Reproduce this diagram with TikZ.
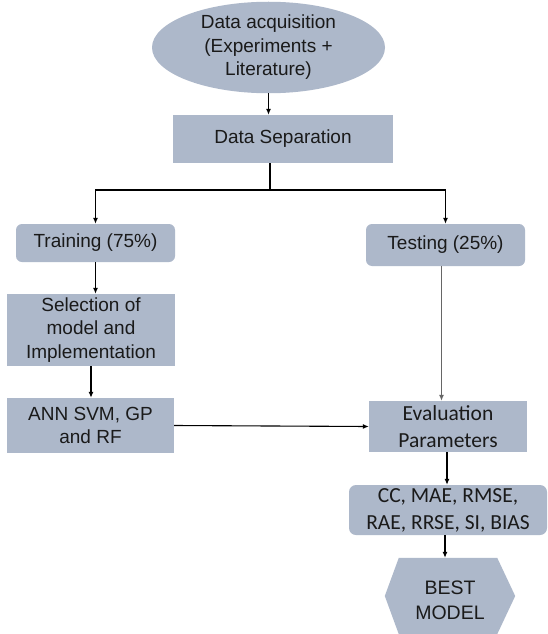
\documentclass[tikz,border=0pt]{standalone}
\usepackage{fontspec}
\setmainfont{Liberation Sans}
\newfontfamily\calib{Carlito}
\usetikzlibrary{shapes.geometric,arrows.meta}
\definecolor{boxfill}{HTML}{ADB8CA}
\definecolor{txt}{HTML}{1A1A1A}
\tikzset{
  base/.style={fill=boxfill, text=txt, align=center, inner sep=0pt,
    font=\fontsize{19}{23.5}\selectfont},
  sqbox/.style={base, rectangle},
  rbox/.style={base, rectangle, rounded corners=6pt},
  cbox/.style={base, font=\calib\fontsize{21.5}{27}\selectfont},
  conn/.style={line width=1.1pt, black, -{Latex[length=6pt,width=5pt]}},
  plain/.style={line width=1.1pt, black}
}
\begin{document}
\begin{tikzpicture}[x=1pt,y=-1pt]
\useasboundingbox[fill=white] (0,0) rectangle (547,634);
\node[base, ellipse, minimum width=233pt, minimum height=79pt] (acq) at (268.5,47.5)
  {Data acquisition\\(Experiments +\\Literature)};
\node[sqbox, minimum width=220pt, minimum height=48pt] (sep) at (283,139) {Data Separation};
\node[rbox, minimum width=159pt, minimum height=38pt] (train) at (95.5,243) {Training (75\%)};
\node[rbox, minimum width=159pt, minimum height=42pt] (test) at (445.5,245) {Testing (25\%)};
\node[sqbox, minimum width=168pt, minimum height=72pt] (sel) at (91,330)
  {Selection of\\model and\\Implementation};
\node[sqbox, minimum width=167pt, minimum height=55pt] (ann) at (90.5,425.5)
  {ANN SVM, GP\\and RF};
\node[cbox, rectangle, minimum width=158pt, minimum height=51pt] (eval) at (448,426.5)
  {Evaluation\\Parameters};
\node[cbox, rectangle, rounded corners=7pt, minimum width=198pt, minimum height=50pt] (cc) at (448,510)
  {CC, MAE, RMSE,\\RAE, RRSE, SI, BIAS};
\node[inner sep=0pt, minimum width=130pt, minimum height=76pt] (best) at (450,596) {};
\fill[boxfill] (best.west) -- ([xshift=14pt]best.north west) -- ([xshift=-18pt]best.north east)
  -- (best.east) -- ([xshift=-18pt]best.south east) -- ([xshift=14pt]best.south west) -- cycle;
\node[text=txt, align=center, font=\fontsize{19.5}{25}\selectfont] (bestlabel) at (450,600) {BEST\\MODEL};
\coordinate (split) at (270,190);
\draw[conn] (acq.south) -- (acq.south |- sep.north);
\draw[plain] (split |- sep.south) -- (split);
\draw[conn] (split) -| (train.north);
\draw[conn] (split) -| (test.north);
\draw[conn] (train.south) -- (train.south |- sel.north);
\draw[conn] (sel.south) -- (sel.south |- ann.north);
\draw[conn, black!60] ([xshift=-4pt]test.south) -- ([xshift=-4pt]test.south |- eval.north);
\draw[conn] (ann.east) -- (eval.west);
\draw[conn] ([xshift=-1pt]eval.south) -- ([xshift=-1pt]eval.south |- cc.north);
\draw[conn] ([xshift=-3pt]cc.south) -- ([xshift=-5pt]best.north);
\end{tikzpicture}
\end{document}
